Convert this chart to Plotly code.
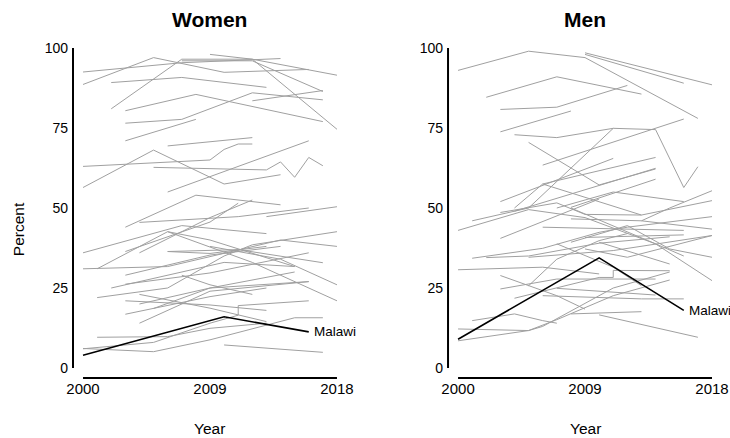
import plotly.graph_objects as go
from plotly.subplots import make_subplots

# ---- Data: women (years / values per country line) ----
women_years = [
    [2000, 2005, 2010, 2016], [2000, 2007, 2014], [2002, 2007, 2012, 2018],
    [2009, 2012, 2018], [2007, 2012, 2017], [2002, 2007, 2013],
    [2003, 2008, 2017], [2012, 2017], [2003, 2007, 2012, 2017],
    [2003, 2008], [2006, 2012], [2000, 2009, 2010, 2011, 2012],
    [2000, 2005, 2010, 2014], [2005, 2013, 2014, 2015, 2016, 2017],
    [2006, 2016], [2003, 2008, 2014], [2000, 2007, 2013],
    [2004, 2011, 2016], [2013, 2018], [2001, 2006, 2009, 2015],
    [2000, 2006, 2009, 2014, 2018], [2004, 2009, 2012], [2003, 2009, 2011],
    [2006, 2009, 2013], [2003, 2009, 2014], [2003, 2009, 2016],
    [2007, 2009, 2012], [2002, 2006, 2010], [2001, 2006, 2010, 2012, 2018],
    [2003, 2009, 2013], [2004, 2009, 2013], [2005, 2009, 2015],
    [2003, 2009, 2013], [2004, 2009, 2016], [2001, 2006, 2009, 2013],
    [2000, 2005, 2009, 2015, 2017], [2000, 2005, 2009, 2011, 2011, 2016],
    [2010, 2017], [2004, 2009, 2016], [2006, 2011, 2017],
    [2009, 2014, 2018], [2010, 2015], [2006, 2012, 2018],
]
women_values = [
    [88.6, 97, 92.4, 93.3], [92.5, 95.4, 96.7], [81, 96.5, 96.5, 74.6],
    [98, 96.5, 91.5], [96, 96, 86.4], [89.2, 90.8, 87.7],
    [80.4, 85.5, 77], [83.5, 86.7], [76.5, 77.7, 86, 83.8],
    [71, 77.7], [69.4, 72], [63, 65, 68.3, 70, 70],
    [56.4, 68.1, 57.5, 60.4], [62.7, 61.9, 64.4, 59.6, 65.8, 63.2],
    [55, 71], [44, 54, 51], [36, 44.5, 42],
    [45.5, 47.3, 50], [47.3, 50.4], [31, 42.6, 40, 31.7],
    [31, 31.7, 34.8, 40, 38], [36, 47, 52.5], [36.4, 45.6, 51.5],
    [36.4, 35.8, 38], [29, 35.3, 38], [26.2, 29.7, 36],
    [29, 26, 23], [25, 29, 33], [22, 25, 35, 38.5, 42.6],
    [21, 19.7, 18], [23, 18.7, 14.5], [18.6, 25, 30],
    [16.8, 22.3, 25], [14, 24, 27], [9.6, 9.8, 12.4, 14],
    [6.1, 5.1, 8.8, 15.7, 15.7], [6, 8, 14, 16.5, 19.5, 21],
    [7.2, 4.9], [20, 25, 27], [36.4, 37, 32.9],
    [38, 34, 26], [33, 31.7], [42.6, 33, 21],
]

# ---- Data: men ----
men_years = [
    [2000, 2005, 2009, 2017], [2009, 2016], [2009, 2018],
    [2002, 2007, 2013], [2003, 2007, 2012], [2003, 2008],
    [2004, 2007, 2011, 2014, 2016, 2017], [2006, 2016], [2005, 2010, 2014],
    [2005, 2011], [2003, 2011], [2004, 2006, 2014],
    [2004, 2014], [2006, 2009, 2013, 2018], [2008, 2014],
    [2013, 2015, 2018], [2007, 2011, 2016], [2000, 2005, 2009, 2014, 2016],
    [2001, 2005], [2003, 2007, 2009, 2013], [2003, 2010],
    [2006, 2012, 2016], [2001, 2006, 2010, 2012, 2018], [2002, 2005, 2010, 2015],
    [2005, 2011, 2018], [2007, 2011, 2013], [2003, 2007, 2009],
    [2000, 2006, 2010], [2003, 2007, 2014], [2004, 2010, 2011, 2011, 2015],
    [2005, 2006, 2007, 2010, 2012], [2006, 2013, 2016], [2007, 2014],
    [2000, 2005, 2007, 2011, 2015], [2000, 2005, 2006, 2011, 2015],
    [2001, 2004, 2006, 2007], [2008, 2013], [2010, 2017],
    [2009, 2012, 2018], [2010, 2015], [2008, 2012, 2015, 2018],
    [2008, 2013, 2018], [2009, 2016], [2008, 2014, 2018],
]
men_values = [
    [93, 99, 97, 78], [98, 89], [98.5, 88.5],
    [84.6, 91, 85.6], [80.8, 81.5, 88.3], [73.8, 80.3],
    [72.9, 72, 74.9, 74.5, 56.4, 62.9], [63.4, 77.8], [70.5, 57.2, 62.2],
    [50, 74.9], [52, 65.5], [50, 57.5, 65.8],
    [49, 62.4], [57.5, 53.3, 47.8, 52.3], [50.2, 59],
    [46, 50, 55.4], [50, 55, 52], [43, 49.5, 47, 38.8, 35],
    [46, 50], [48.6, 51.6, 48, 47.8], [40.5, 52.8],
    [44, 43.5, 43], [34.3, 37.4, 42.4, 44, 47.3], [34.5, 35, 39, 41],
    [34.6, 36.7, 41.4], [38.8, 31.5, 25.7], [28.9, 22.6, 18.4],
    [30.7, 31.5, 29.4], [24.7, 27.8, 27.8], [21.8, 28.3, 28.3, 30.5, 30.4],
    [25.7, 30, 34, 39.8, 42], [22.6, 21.6, 21.6], [24.9, 22.8],
    [12.2, 11.7, 15.1, 22.6, 27.5], [8.5, 11.7, 13, 25, 30],
    [14.8, 16.9, 14.8, 14], [16.9, 17.6], [16.6, 9.6],
    [37.2, 34.6, 41.4], [39.3, 32.5], [39.3, 44.5, 37.2, 34.6],
    [46.6, 46, 43.4], [40.8, 41.6], [50, 38.8, 27.3],
]

malawi_years = [2000, 2010, 2016]
malawi_women = [4, 16, 11.3]
malawi_men = [9, 34.4, 18]

panel_titles = ["Women", "Men"]
x_ticks = [2000, 2009, 2018]
y_ticks = [0, 25, 50, 75, 100]

FONT = "Liberation Sans, Arial, sans-serif"
GRAY = "#a0a0a0"

fig = make_subplots(rows=1, cols=2, horizontal_spacing=0.1738)

for col, (yrs, vals, mw) in enumerate(
        [(women_years, women_values, malawi_women),
         (men_years, men_values, malawi_men)], start=1):
    for xs, ys in zip(yrs, vals):
        fig.add_trace(go.Scatter(x=xs, y=ys, mode="lines",
                                 line=dict(color=GRAY, width=1),
                                 hoverinfo="skip", showlegend=False),
                      row=1, col=col)
    fig.add_trace(go.Scatter(x=malawi_years, y=mw, mode="lines",
                             line=dict(color="black", width=1.6),
                             showlegend=False), row=1, col=col)

xr = [1999.29, 2018]
yr = [-3.125, 100]
for col in (1, 2):
    fig.update_xaxes(range=xr, tickvals=x_ticks, showgrid=False, zeroline=False,
                     showline=False, ticks="", tickfont=dict(size=15, color="black"),
                     automargin=False, row=1, col=col)
    fig.update_yaxes(range=yr, tickvals=y_ticks, showgrid=False, zeroline=False,
                     showline=False, ticks="", tickfont=dict(size=14, color="black"),
                     ticklabelstandoff=4, automargin=False, row=1, col=col)

shapes = []
anns = []
for i, (xa, ya) in enumerate([("x", "y"), ("x2", "y2")]):
    shapes.append(dict(type="line", xref=xa, yref=ya + " domain",
                       x0=x_ticks[0], x1=x_ticks[-1], y0=0, y1=0,
                       line=dict(color="black", width=2)))
    shapes.append(dict(type="line", xref=xa + " domain", yref=ya,
                       x0=0, x1=0, y0=y_ticks[0], y1=y_ticks[-1],
                       line=dict(color="black", width=2)))
    anns.append(dict(text="<b>%s</b>" % panel_titles[i], xref=xa, yref="paper",
                     x=2009, y=1.085, yanchor="middle", xanchor="center",
                     showarrow=False,
                     font=dict(size=21, color="black", family=FONT)))
    anns.append(dict(text="Year", xref=xa, yref="paper", x=2009, y=-0.152,
                     yanchor="middle", xanchor="center",
                     showarrow=False, font=dict(size=15.5, color="black", family=FONT)))
    mv = malawi_women if i == 0 else malawi_men
    anns.append(dict(text="Malawi", xref=xa, yref=ya, x=malawi_years[-1], y=mv[-1],
                     xanchor="left", yanchor="middle", xshift=3, showarrow=False,
                     font=dict(size=13.5, color="black", family=FONT)))

anns.append(dict(text="Percent", xref="paper", yref="paper", x=-0.085, y=0.45,
                 xanchor="center", yanchor="middle",
                 textangle=-90, showarrow=False,
                 font=dict(size=15.5, color="black", family=FONT)))

fig.update_layout(
    width=730, height=438,
    margin=dict(l=73, r=18, t=48, b=60),
    paper_bgcolor="white", plot_bgcolor="white",
    font=dict(family=FONT, color="black"),
    shapes=shapes, annotations=anns,
    showlegend=False,
)
fig.update_xaxes(domain=[0, 0.4131], row=1, col=1)
fig.update_xaxes(domain=[0.5869, 1], row=1, col=2)

fig.write_html("out.html", config={"displayModeBar": False},
               post_script="document.body.style.margin='0';document.body.style.overflow='hidden';")
